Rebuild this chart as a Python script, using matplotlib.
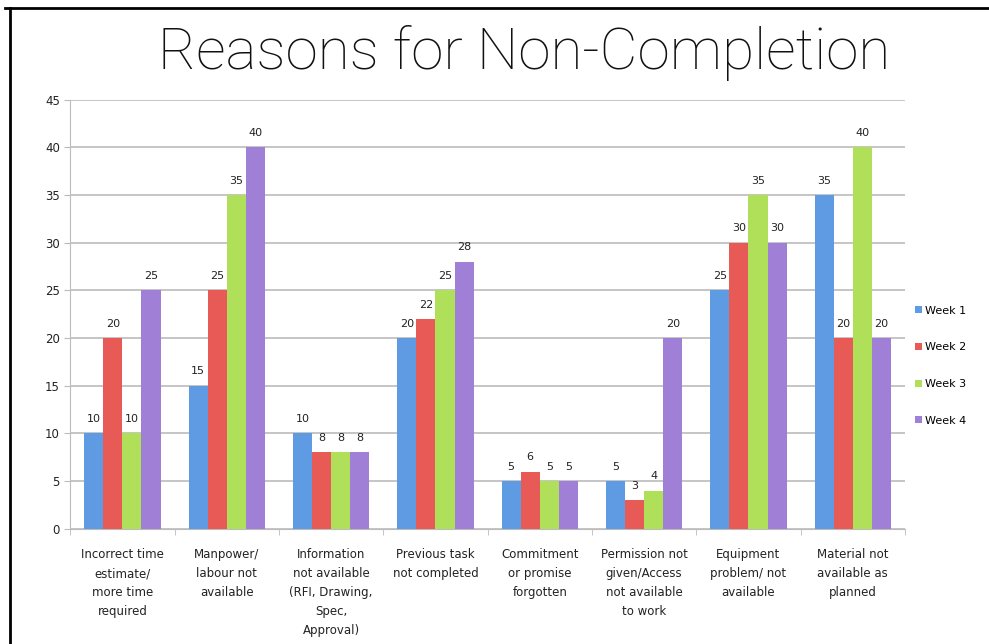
import matplotlib.pyplot as plt
import numpy as np
from matplotlib.lines import Line2D

categories = [
    "Incorrect time\nestimate/\nmore time\nrequired",
    "Manpower/\nlabour not\navailable",
    "Information\nnot available\n(RFI, Drawing,\nSpec,\nApproval)",
    "Previous task\nnot completed",
    "Commitment\nor promise\nforgotten",
    "Permission not\ngiven/Access\nnot available\nto work",
    "Equipment\nproblem/ not\navailable",
    "Material not\navailable as\nplanned",
]
week1 = [10, 15, 10, 20, 5, 5, 25, 35]
week2 = [20, 25, 8, 22, 6, 3, 30, 20]
week3 = [10, 35, 8, 25, 5, 4, 35, 40]
week4 = [25, 40, 8, 28, 5, 20, 30, 20]
series = {"Week 1": week1, "Week 2": week2, "Week 3": week3, "Week 4": week4}
colors = ["#5e9be3", "#e85a55", "#b0e05a", "#a07fd6"]

fig = plt.figure(figsize=(9.89, 6.44), dpi=100)
ax = fig.add_axes([0.071, 0.179, 0.844, 0.666])

x = np.arange(len(categories))
w = 0.183
for i, (name, vals) in enumerate(series.items()):
    pos = x + (i - 1.5) * w
    bars = ax.bar(pos, vals, width=w, color=colors[i], label=name, zorder=3)
    for b, v in zip(bars, vals):
        ax.text(b.get_x() + b.get_width() / 2, v + 1.0, str(v), ha="center",
                va="bottom", fontsize=8, color="#222222")

ax.set_ylim(0, 45)
ax.set_xlim(-0.5, len(categories) - 0.5)
ax.set_yticks(range(0, 46, 5))
ax.yaxis.grid(True, color="#bbbbbb", linewidth=1.2, zorder=0)
ax.set_xticks(x)
ax.set_xticklabels(categories, fontsize=8.5, color="#222222", linespacing=1.6)
ax.tick_params(axis="x", length=0, pad=14)
ax.tick_params(axis="y", labelsize=8.5, colors="#222222", length=4, color="#bbbbbb")
ax.set_xticks(np.arange(-0.5, len(categories), 1), minor=True)
ax.tick_params(axis="x", which="minor", length=4, color="#bbbbbb")
for s in ["top", "right"]:
    ax.spines[s].set_visible(False)
ax.spines["left"].set_color("#bbbbbb")
ax.spines["bottom"].set_color("#bbbbbb")

ax.legend(loc="center left", bbox_to_anchor=(1.0, 0.38), frameon=False,
          fontsize=8, handlelength=0.6, handleheight=0.6, labelspacing=2.4,
          handletextpad=0.3)

fig.text(0.53, 0.918, "Reasons for Non-Completion", ha="center", va="center",
         fontsize=42, family="Roboto", fontweight="light", color="#111111")

fig.add_artist(Line2D([0.005, 1.0], [0.988, 0.988], color="black", linewidth=2))
fig.add_artist(Line2D([0.0105, 0.0105], [0.0, 0.988], color="black", linewidth=2))

fig.savefig("out.png", dpi=100)
